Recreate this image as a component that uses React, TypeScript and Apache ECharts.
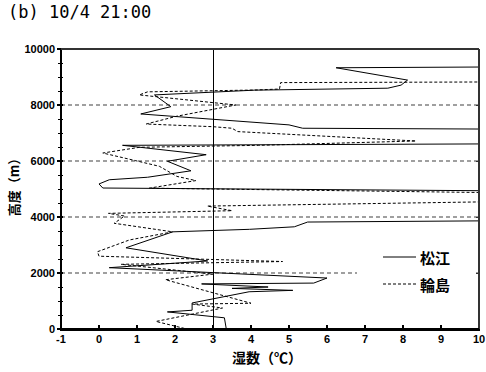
import React, { useEffect, useRef } from "react";
import * as echarts from "echarts";

const titleText = "(b) 10/4 21:00";
const seriesNames = ["松江", "輪島"];
const xAxisName = "湿数（℃）";
const yAxisName = "高度（m）";

// 松江 (solid): dew-point depression (°C) and height (m)
const matsueDepression = [3.35, 3.3, 1.8, 2.45, 2.45, 3.95, 5.1, 3.5, 4.45, 2.7, 5.65, 6.0, 0.27, 2.86, 0.71, 1.94, 3.96, 5.14, 5.49, 12, 12, 0.1, 0.0, 0.27, 1.28, 2.42, 1.8, 2.82, 0.62, 12, 12, 5.36, 5.0, 1.1, 1.89, 1.46, 4.09, 7.6, 7.95, 8.12, 6.24, 12];
const matsueHeight = [0, 400, 610, 670, 930, 1330, 1380, 1450, 1500, 1610, 1640, 1820, 2190, 2430, 2900, 3470, 3560, 3650, 3820, 3880, 4920, 5035, 5180, 5330, 5420, 5650, 5990, 6225, 6560, 6620, 7130, 7170, 7290, 7680, 7940, 8360, 8530, 8600, 8710, 8890, 9330, 9370];

// 輪島 (dashed)
const wajimaDepression = [2.25, 1.5, 3.25, 2.46, 4.0, 1.75, 3.0, 0.58, 4.83, 0.0, -0.04, 0.8, 1.94, 0.4, 0.67, 0.25, 3.5, 2.85, 12, 12, 1.32, 2.55, 2.05, 1.59, 0.97, 0.1, 1.07, 4.2, 8.34, 3.65, 3.5, 3.0, 1.24, 2.05, 3.6, 1.06, 1.28, 4.1, 4.75, 4.78, 12, 12, 9.0];
const wajimaHeight = [20, 270, 750, 890, 920, 1760, 1960, 2310, 2410, 2600, 2760, 3180, 3470, 3775, 4035, 4130, 4225, 4390, 4580, 4840, 5030, 5300, 5450, 5810, 6010, 6285, 6490, 6560, 6715, 7050, 7170, 7225, 7320, 7600, 8000, 8360, 8470, 8535, 8570, 8800, 8830, 9880, 10030];

const referenceDepression = 3;
const xMin = -1;
const xMax = 10;
const xInterval = 1;
const yMin = 0;
const yMax = 10000;
const yInterval = 2000;
const yMinorInterval = 500;

const zip = (xs: number[], ys: number[]) => xs.map((x, i) => [x, ys[i]]);
const steps = (min: number, max: number, step: number) => {
  const out: number[] = [];
  for (let v = min; v <= max + 1e-9; v += step) out.push(v);
  return out;
};
const xTickValues = steps(xMin, xMax, xInterval);
const yMajorValues = steps(yMin, yMax, yInterval);
const yMinorValues = steps(yMin, yMax, yMinorInterval).filter((v) => v % yInterval !== 0);

const seg = (x1: number, y1: number, x2: number, y2: number, stroke: string) => ({
  type: "line",
  shape: { x1, y1, x2, y2 },
  style: { stroke, lineWidth: 1 },
});

export default function App() {
  const ref = useRef<HTMLDivElement>(null);
  useEffect(() => {
    if (!ref.current) return;
    const chart = echarts.init(ref.current, undefined, { renderer: "svg" });
    const labelStyle = { fontFamily: "Liberation Sans", fontWeight: "bold" as const, fontSize: 11, color: "#000" };
    chart.setOption({
      animation: false,
      backgroundColor: "#fff",
      title: {
        text: titleText,
        left: 8,
        top: 3,
        padding: 0,
        textStyle: { fontFamily: "DejaVu Sans Mono", fontSize: 17, fontWeight: "normal", color: "#000" },
      },
      grid: { left: 61, right: 7, top: 49, bottom: 43, outerBoundsMode: "none" },
      xAxis: {
        type: "value",
        min: xMin,
        max: xMax,
        interval: xInterval,
        axisLine: { show: true, lineStyle: { color: "#000", width: 2 } },
        axisTick: { show: false },
        axisLabel: { ...labelStyle, margin: 4 },
        splitLine: { show: false },
      },
      yAxis: {
        type: "value",
        min: yMin,
        max: yMax,
        interval: yInterval,
        axisLine: { show: true, onZero: false, lineStyle: { color: "#000", width: 2 } },
        axisTick: { show: false },
        axisLabel: { ...labelStyle, margin: 6, formatter: (v: number) => String(v) },
        splitLine: { show: true, lineStyle: { color: "#808080", width: 1.5, type: [4, 3] } },
      },
      series: [
        {
          name: seriesNames[0],
          type: "line",
          data: zip(matsueDepression, matsueHeight),
          symbol: "none",
          lineStyle: { color: "#000", width: 1 },
          markLine: {
            silent: true,
            symbol: ["none", "none"],
            label: { show: false },
            lineStyle: { color: "#000", width: 1, type: "solid" },
            data: [
              { xAxis: referenceDepression },
              { xAxis: xMin, lineStyle: { width: 2 } },
              { xAxis: xMax, lineStyle: { width: 2, color: "#333" } },
              { yAxis: yMin, lineStyle: { width: 2 } },
              { yAxis: yMax, lineStyle: { width: 2, color: "#333" } },
            ],
          },
        },
        {
          name: seriesNames[1],
          type: "line",
          data: zip(wajimaDepression, wajimaHeight),
          symbol: "none",
          lineStyle: { color: "#000", width: 1, type: [3, 2] },
        },
      ],
    });

    const px = (x: number, y: number) => chart.convertToPixel({ gridIndex: 0 }, [x, y]) as number[];
    const bl = px(xMin, yMin);
    const tr = px(xMax, yMax);
    const L = Math.round(bl[0]);
    const B = Math.round(bl[1]);
    const R = Math.round(tr[0]);
    const T = Math.round(tr[1]);

    const els: any[] = [];
    els.push(seg(L - 0.5, B + 1, L - 0.5, T, "#000"));
    els.push(seg(L + 0.5, B + 1, L + 0.5, T, "#000"));
    els.push(seg(L - 1, B - 0.5, R + 1, B - 0.5, "#000"));
    els.push(seg(L - 1, B + 0.5, R + 1, B + 0.5, "#000"));
    els.push(seg(L - 1, B + 1.5, R + 1, B + 1.5, "#000"));
    els.push(seg(L, T + 0.5, R, T + 0.5, "#222"));
    els.push(seg(L, T - 0.5, R, T - 0.5, "#555"));
    els.push(seg(R - 0.5, T, R - 0.5, B, "#222"));
    els.push(seg(R + 0.5, T, R + 0.5, B, "#555"));
    xTickValues.forEach((v) => {
      const x = Math.round(px(v, yMin)[0]);
      els.push(seg(x - 0.5, B - 4, x - 0.5, B + 2, "#000"));
      els.push(seg(x + 0.5, B - 4, x + 0.5, B + 2, "#000"));
    });
    yMajorValues.forEach((v) => {
      const y = Math.round(px(xMin, v)[1]);
      els.push(seg(L - 4, y - 0.5, L + 2, y - 0.5, "#000"));
      els.push(seg(L - 4, y + 0.5, L + 2, y + 0.5, "#000"));
      els.push(seg(R - 3, y + 0.5, R, y + 0.5, "#333"));
    });
    yMinorValues.forEach((v) => {
      const y = Math.round(px(xMin, v)[1]);
      els.push(seg(L - 3, y + 0.5, L + 2, y + 0.5, "#000"));
    });

    const midX = (L + R) / 2;
    const legendLeft = R - 122;
    const legendTop = B - 92;
    const nameFont = "Noto Sans CJK JP";
    chart.setOption({
      graphic: [
        ...els,
        {
          type: "text",
          x: midX - 3,
          y: B + 28,
          style: { text: xAxisName, fontFamily: nameFont, fontWeight: "bold", fontSize: 14, fill: "#000", align: "center", verticalAlign: "middle" },
        },
        {
          type: "group",
          z: 10,
          children: [
            { type: "rect", z: 10, shape: { x: legendLeft, y: legendTop, width: 119, height: 66 }, style: { fill: "#fff" } },
            { type: "line", z: 11, shape: { x1: legendLeft + 26, y1: legendTop + 20, x2: legendLeft + 59, y2: legendTop + 20 }, style: { stroke: "#000", lineWidth: 1 } },
            { type: "line", z: 11, shape: { x1: legendLeft + 26, y1: legendTop + 47, x2: legendLeft + 59, y2: legendTop + 47 }, style: { stroke: "#000", lineWidth: 1, lineDash: [3, 2] } },
            { type: "text", z: 11, x: legendLeft + 63, y: legendTop + 20, style: { text: seriesNames[0], fontFamily: nameFont, fontWeight: "bold", fontSize: 15, fill: "#000", verticalAlign: "middle" } },
            { type: "text", z: 11, x: legendLeft + 63, y: legendTop + 47, style: { text: seriesNames[1], fontFamily: nameFont, fontWeight: "bold", fontSize: 15, fill: "#000", verticalAlign: "middle" } },
          ],
        },
      ],
    });
    return () => chart.dispose();
  }, []);
  return (
    <div style={{ position: "fixed", left: 0, top: 0, width: 486, height: 372, background: "#fff" }}>
      <div ref={ref} style={{ position: "absolute", left: 0, top: 0, width: 486, height: 372 }} />
      <div
        style={{
          position: "absolute",
          left: 13,
          top: 184,
          transform: "translate(-50%, -50%) rotate(-90deg)",
          whiteSpace: "nowrap",
          fontFamily: "'Noto Sans CJK JP'",
          fontWeight: "bold",
          fontSize: 13,
          lineHeight: "13px",
          color: "#000",
          pointerEvents: "none",
        }}
      >
        {yAxisName}
      </div>
    </div>
  );
}
